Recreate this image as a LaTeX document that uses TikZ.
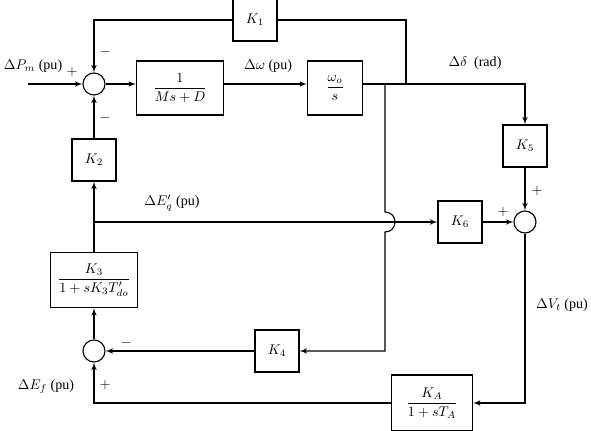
\documentclass[tikz,border=0pt]{standalone}
\usepackage{amsmath}
\usepackage{fontspec}
\setmainfont{Liberation Serif}
\usetikzlibrary{arrows}

\begin{document}
\begin{tikzpicture}[
    x = 0.025cm,
    y = -0.025cm,
    line width = 0.8pt,
    >=latex',
    block/.style = {
      draw,
      rectangle,
      inner sep = 1pt,
      minimum width = 1.1cm,
      minimum height = 1.05cm
    },
    sumj/.style = {
      draw,
      circle,
      inner sep = 0pt,
      minimum size = 0.55cm
    }
  ]
  \useasboundingbox (0,0) rectangle (591,431);

  % blocks
  \node[sumj] (sum1) at (94,84) {};
  \node[block, minimum width=2.175cm, minimum height=1.35cm] (plant) at (180,88) {$\dfrac{1}{Ms+D}$};
  \node[block, minimum width=1.375cm, minimum height=1.35cm] (integ) at (335,88) {$\dfrac{\omega_o}{s}$};
  \node[block] (kone)  at (255,20)  {$K_1$};
  \node[block] (ktwo)  at (94,160)  {$K_2$};
  \node[block, minimum width=2.175cm, minimum height=1.375cm] (kthree) at (94,280) {$\dfrac{K_3}{1+sK_3T'_{do}}$};
  \node[sumj] (sum3) at (94,351) {};
  \node[block] (kfour) at (277,351) {$K_4$};
  \node[block, minimum width=2.025cm, minimum height=1.4cm] (ka) at (432,403) {$\dfrac{K_A}{1+sT_A}$};
  \node[block] (kfive) at (525,146) {$K_5$};
  \node[sumj] (sum2) at (525,222) {};
  \node[block] (ksix)  at (460,222) {$K_6$};

  \coordinate (pin) at (28,84);
  \coordinate (wout) at (363,84);

  % forward path
  \draw[->] (pin) -- (sum1);
  \draw[->] (sum1) -- (plant.west |- sum1);
  \draw[->] (plant.east |- sum1) -- (integ.west |- sum1);
  \draw[->] (integ.east |- sum1) -- (525,84) -- (kfive);
  \draw (406,84) -- (406,20) -- (kone);
  \draw[->] (kone) -- (94,20) -- (sum1);
  \draw[->] (ktwo) -- (sum1);
  \draw[->] (kthree) -- (ktwo);
  \draw[->] (sum3) -- (kthree);

  % delta E'q to K6, hop over the vertical line
  \draw[->] (94,222) -- (ksix);
  \draw[->] (385,84) -- (385,212) .. controls (398.3,212) and (398.3,232) .. (385,232)
    -- (385,351) -- (kfour);
  \draw[->] (kfour) -- (sum3);

  \draw[->] (kfive) -- (sum2);
  \draw[->] (ksix) -- (sum2);
  \draw[->] (sum2) -- (525,403) -- (ka);
  \draw[->] (ka) -- (94,403) -- (sum3);

  % labels
  \node at (33,66) {$\Delta P_m$ (pu)};
  \node at (72,72) {$+$};
  \node at (105,52) {$-$};
  \node at (105,118) {$-$};
  \node at (268,66) {$\Delta\omega$ (pu)};
  \node at (475,63) {$\Delta\delta$~ (rad)};
  \node at (172,203) {$\Delta E'_q$ (pu)};
  \node at (537,191) {$+$};
  \node at (503,212) {$+$};
  \node at (562,305) {$\Delta V_t$ (pu)};
  \node at (126,343) {$-$};
  \node at (105,385) {$+$};
  \node at (46,387) {$\Delta E_f$ (pu)};
\end{tikzpicture}
\end{document}
